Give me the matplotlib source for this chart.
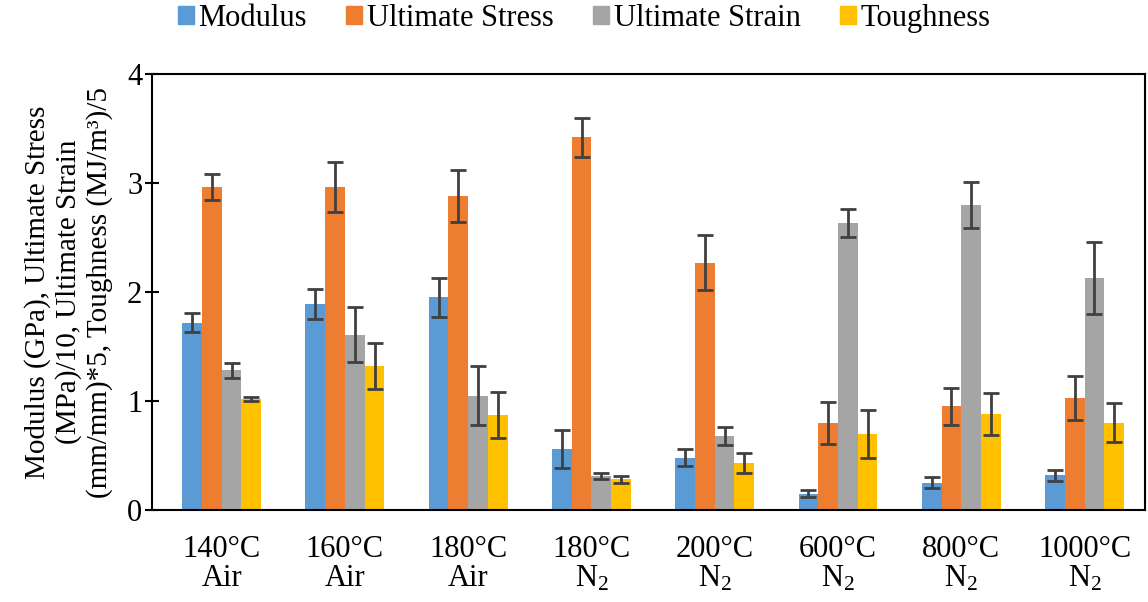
import numpy as np
import matplotlib
matplotlib.use("Agg")
import matplotlib.pyplot as plt
from matplotlib.patches import Patch

plt.rcParams['font.family'] = ['Liberation Serif', 'DejaVu Serif']
plt.rcParams['mathtext.fontset'] = 'custom'
plt.rcParams['mathtext.rm'] = 'Liberation Serif'
plt.rcParams['mathtext.it'] = 'Liberation Serif:italic'

# Data
kategori = ['140°C\nAir', '160°C\nAir', '180°C\nAir', '180°C\nN$_2$',
            '200°C\nN$_2$', '600°C\nN$_2$', '800°C\nN$_2$', '1000°C\nN$_2$']
seri = ['Modulus', 'Ultimate Stress', 'Ultimate Strain', 'Toughness']

modulus = [1.72, 1.89, 1.95, 0.56, 0.48, 0.15, 0.25, 0.32]
modulus_err = [0.09, 0.14, 0.18, 0.17, 0.08, 0.03, 0.05, 0.05]
stress = [2.96, 2.96, 2.88, 3.42, 2.27, 0.80, 0.95, 1.03]
stress_err = [0.12, 0.23, 0.24, 0.18, 0.25, 0.19, 0.17, 0.20]
strain = [1.28, 1.61, 1.05, 0.31, 0.68, 2.63, 2.80, 2.13]
strain_err = [0.07, 0.25, 0.27, 0.03, 0.08, 0.13, 0.21, 0.33]
toughness = [1.02, 1.32, 0.87, 0.28, 0.43, 0.70, 0.88, 0.80]
toughness_err = [0.02, 0.21, 0.21, 0.03, 0.09, 0.22, 0.19, 0.18]

warna = ['#5B9BD5', '#ED7D31', '#A5A5A5', '#FFC000']

# Plot
fig = plt.figure(figsize=(11.48, 6.02), dpi=100)
ax = fig.add_axes([0.1324, 0.1528, 0.865, 0.7243])

x = np.arange(len(kategori))
w = 0.16
nilai = [modulus, stress, strain, toughness]
galat = [modulus_err, stress_err, strain_err, toughness_err]
for i in range(4):
    pos = x + (i - 1.5) * w
    ax.bar(pos, nilai[i], w, color=warna[i], label=seri[i], zorder=2)
    ax.errorbar(pos, nilai[i], yerr=galat[i], fmt='none', ecolor='#404040',
                elinewidth=2, capsize=6, capthick=2, zorder=3)

ax.set_xlim(-0.565, len(kategori) - 0.51)
ax.set_ylim(0, 4)
ax.set_yticks([0, 1, 2, 3, 4])
ax.set_xticks(x)
ax.set_xticklabels(kategori, fontsize=22, linespacing=1.0)
ax.tick_params(axis='x', length=0, pad=18)
ax.tick_params(axis='y', direction='inout', length=10, width=1.5, labelsize=22, pad=2)
for s in ax.spines.values():
    s.set_linewidth(1.5)
    s.set_color('black')

ax.set_ylabel('Modulus (GPa), Ultimate Stress\n(MPa)/10, Ultimate Strain\n(mm/mm)*5, Toughness (MJ/m³)/5',
              fontsize=21, linespacing=1.2, labelpad=10)

handles = [Patch(color=c) for c in warna]
fig.legend(handles, seri, loc='upper center', bbox_to_anchor=(0.509, 0.993), ncol=4,
           frameon=False, fontsize=22, handlelength=0.52, handleheight=0.52,
           handletextpad=0.15, columnspacing=1.3, borderpad=0.0, borderaxespad=0.0)

plt.savefig('out.png', dpi=100)
